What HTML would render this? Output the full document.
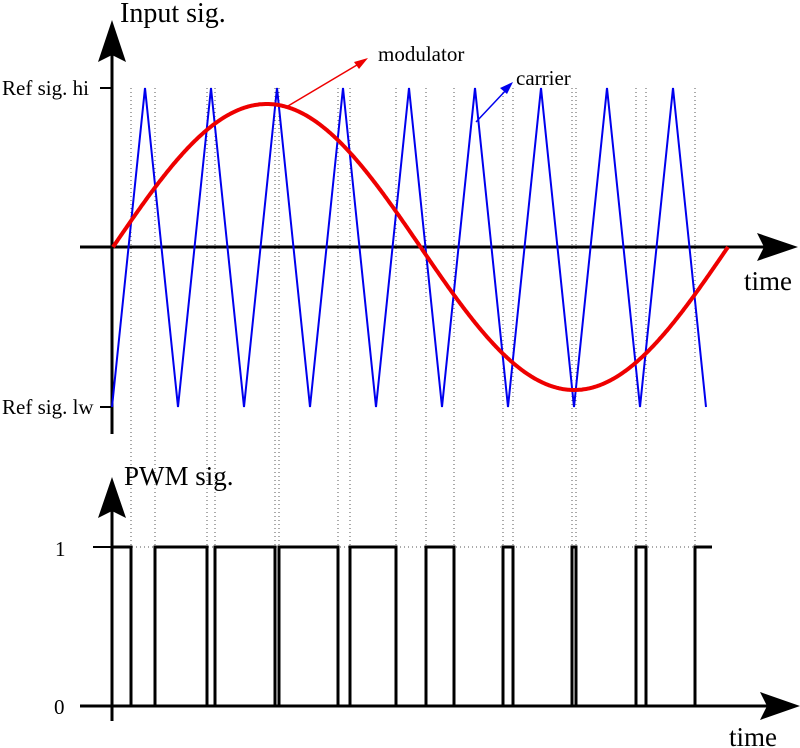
<!DOCTYPE html>
<html><head><style>body{margin:0;background:#fff}svg{display:block}text{font-family:"Liberation Serif",serif}</style></head>
<body>
<svg id="s" width="800" height="748" viewBox="0 0 800 748" xmlns="http://www.w3.org/2000/svg">
<g id="dots" stroke="#555" stroke-width="1" stroke-dasharray="1,3"></g>
<g stroke="#000" stroke-width="3" fill="none">
<line x1="112" y1="55" x2="112" y2="434"/>
<line x1="80" y1="247" x2="770" y2="247"/>
<line x1="112" y1="510" x2="112" y2="721"/>
<line x1="80" y1="706" x2="775" y2="706"/>
<line x1="100" y1="88" x2="112" y2="88" stroke-width="2"/>
<line x1="100" y1="407" x2="112" y2="407" stroke-width="2"/>
<line x1="93" y1="547" x2="112" y2="547" stroke-width="2"/>
</g>
<g fill="#000">
<polygon points="112,20 98,62 112,55 126,62"/>
<polygon points="112,477 98,518 112,511 126,518"/>
<polygon points="798,247 757,233 764,247 757,261"/>
<polygon points="800,706 760,692 767,706 760,720"/>
</g>
<path id="car" fill="none" stroke="#0000ee" stroke-width="2"/>
<path id="sin" fill="none" stroke="#ee0000" stroke-width="4"/>
<path id="pwm" fill="none" stroke="#000" stroke-width="3"/>
<line x1="288" y1="106" x2="362" y2="62" stroke="#ee0000" stroke-width="1.5"/>
<polygon points="368,58 354,62 359,69" fill="#ee0000"/>
<line x1="476" y1="122" x2="508" y2="88" stroke="#0000ee" stroke-width="1.5"/>
<polygon points="513,82 500,88 507,94" fill="#0000ee"/>
<text x="120" y="22" font-size="28">Input sig.</text>
<text x="124" y="485" font-size="27">PWM sig.</text>
<text x="2" y="95" font-size="21">Ref sig. hi</text>
<text x="2" y="414" font-size="21">Ref sig. lw</text>
<text x="55" y="556" font-size="21">1</text>
<text x="54" y="714" font-size="21">0</text>
<text x="378" y="61" font-size="21">modulator</text>
<text x="516" y="85" font-size="21">carrier</text>
<text x="744" y="290" font-size="27">time</text>
<text x="729" y="746" font-size="27">time</text>
</svg>
<script>
function car(x){var t=((x-112)%66+66)%66;var v=t<33?t/33:2-t/33;return 407-319*v;}
function sn(x){return 247-143*Math.sin(2*Math.PI*(x-113)/615);}
var d="M112 407";for(var k=0;k<9;k++){d+=" L"+(145+66*k)+" 88 L"+(178+66*k)+" 407";}
document.getElementById('car').setAttribute('d',d.replace(/L706 407.*$/,'L706 407'));
var s="";for(var x=113;x<=728;x+=1){s+=(x==113?"M":"L")+x+" "+sn(x).toFixed(1)+" ";}
document.getElementById('sin').setAttribute('d',s);
var xs=[],prev=null;
for(var x=113;x<=712;x+=0.1){var h=sn(x)<car(x);if(prev!==null&&h!==prev)xs.push(x);prev=h;}
var hy=547,ly=706,p="M112 "+hy,cur=hy;
var g=document.getElementById('dots'),ns="http://www.w3.org/2000/svg";
xs.forEach(function(x){x=Math.round(x);var n=cur==hy?ly:hy;p+=" L"+x+" "+cur+" L"+x+" "+n;cur=n;
var l=document.createElementNS(ns,'line');l.setAttribute('x1',x);l.setAttribute('x2',x);l.setAttribute('y1',88);l.setAttribute('y2',547);g.appendChild(l);});
p+=" L712 "+cur;
document.getElementById('pwm').setAttribute('d',p);
var l=document.createElementNS(ns,'line');l.setAttribute('x1',112);l.setAttribute('x2',712);l.setAttribute('y1',547);l.setAttribute('y2',547);g.appendChild(l);
</script>
</body></html>
